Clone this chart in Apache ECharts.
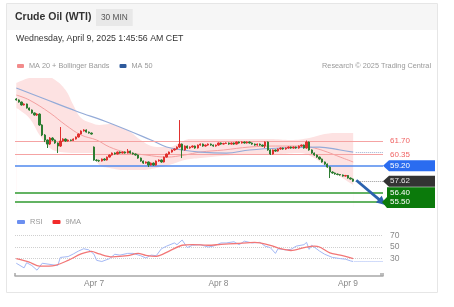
<!DOCTYPE html>
<html><head><meta charset="utf-8">
<script src="https://cdn.jsdelivr.net/npm/echarts/dist/echarts.min.js"></script>
<style>html,body{margin:0;padding:0;background:#fff}#c{width:454px;height:307px}</style>
</head><body><div id="c"></div>
<script>
// ---- data ----
const slotCount = 142; // 131 half-hour candles + empty space on the right
const tickIdx = [30, 78, 128];
const tickText = ['Apr 7', 'Apr 8', 'Apr 9'];

// [open, close, low, high]
const ohlc = [
[65.97,65.87,65.80,66.05],[65.87,65.66,65.60,65.92],[65.66,65.36,65.30,65.70],[65.36,65.46,65.30,65.52],
[65.46,65.05,65.00,65.50],[65.05,64.85,64.78,65.10],[64.85,64.55,64.48,64.90],[64.55,64.34,64.28,64.60],
[64.34,64.44,64.25,64.52],[64.44,63.33,63.25,64.50],[63.33,62.31,62.20,63.40],[62.31,61.80,61.60,62.40],
[61.80,61.39,60.99,61.85],[61.39,62.00,61.30,62.10],[62.00,61.80,61.70,62.08],[61.80,61.50,61.42,61.86],
[61.50,61.19,60.48,61.55],[61.19,61.70,61.10,63.12],[61.70,61.90,61.62,61.98],[61.90,61.70,61.62,61.96],
[61.70,61.80,61.64,61.86],[61.80,61.75,61.68,61.85],[61.75,61.90,61.70,61.96],[61.90,62.11,61.85,62.16],
[62.11,62.41,62.05,62.46],[62.41,62.72,62.36,62.78],[62.72,62.82,62.66,62.90],[62.82,62.61,62.55,62.88],
[62.61,62.51,62.45,62.66],[62.51,62.41,62.35,62.56],
[61.09,59.77,59.70,61.15],[59.77,59.72,59.62,59.85],[59.72,59.67,59.58,59.80],[59.67,59.87,59.62,59.92],
[59.87,59.77,59.70,59.94],[59.77,60.07,59.72,60.12],[60.07,60.28,60.02,60.33],[60.28,60.48,60.22,60.53],
[60.48,60.38,60.32,60.54],[60.38,60.58,60.33,60.63],[60.58,60.48,60.42,60.64],[60.48,60.58,60.43,60.63],
[60.58,60.48,60.42,60.64],[60.48,60.68,60.43,60.89],[60.68,60.48,60.42,60.73],[60.48,60.38,60.32,60.54],
[60.38,60.28,60.22,60.43],[60.28,59.97,59.90,60.33],[59.97,59.67,59.60,60.02],[59.67,59.46,59.38,59.72],
[59.46,59.57,59.40,59.62],[59.57,59.26,59.06,59.62],[59.26,59.46,59.20,59.52],[59.46,59.26,59.18,59.52],
[59.26,59.67,59.20,59.72],[59.67,59.77,59.60,59.83],[59.77,59.57,59.50,59.82],[59.57,60.07,59.52,60.12],
[60.07,60.38,60.02,60.43],[60.38,60.58,60.33,60.63],[60.58,60.79,60.52,60.84],[60.79,60.89,60.72,60.95],
[60.89,61.09,60.84,61.15],[61.09,61.39,61.00,63.83],[61.39,60.79,59.97,61.45],[60.79,61.19,60.72,61.25],
[61.19,60.99,60.92,61.24],[60.99,61.09,60.92,61.15],[61.09,61.19,61.02,61.25],[61.19,60.99,60.92,61.24],
[60.99,61.29,60.94,61.34],[61.29,61.39,61.22,61.45],[61.39,61.19,61.12,61.44],[61.19,61.29,61.12,61.34],
[61.29,61.39,61.22,61.45],[61.39,61.29,61.22,61.44],[61.29,61.19,61.12,61.34],[61.19,61.29,61.12,61.34],
[61.29,61.50,61.22,61.55],[61.50,61.39,61.32,61.55],[61.39,61.45,61.34,61.52],[61.45,61.50,61.40,61.56],
[61.50,61.39,61.32,61.55],[61.39,61.50,61.34,61.55],[61.50,61.39,61.32,61.55],[61.39,61.60,61.34,61.66],
[61.60,61.50,61.44,61.65],[61.50,61.60,61.44,61.66],[61.60,61.50,61.44,61.65],[61.50,61.60,61.44,61.66],
[61.60,61.50,61.44,61.65],[61.50,61.39,61.32,61.55],[61.39,61.29,61.22,61.44],[61.29,61.39,61.22,61.45],
[61.39,61.29,61.22,61.44],[61.29,61.19,61.12,61.34],[61.19,61.60,60.99,61.66],[61.60,60.79,60.72,61.65],
[60.79,60.38,60.28,60.85],[60.38,60.79,60.32,60.84],[60.79,60.68,60.60,60.84],[60.68,60.89,60.62,60.95],
[60.89,60.99,60.82,61.05],[60.99,60.89,60.82,61.04],[60.89,60.99,60.82,61.05],[60.99,61.09,60.92,61.15],
[61.09,60.99,60.92,61.14],[60.99,61.09,60.92,61.15],[61.09,60.99,60.92,61.14],[60.99,61.19,60.92,61.25],
[61.19,61.29,61.12,61.34],[61.29,60.99,60.92,61.34],[60.99,61.60,60.92,61.75],[61.60,60.79,60.72,61.65],
[60.79,60.48,60.40,60.85],[60.48,60.28,60.20,60.53],[60.28,60.07,60.00,60.33],[60.07,59.87,59.80,60.12],
[59.87,59.57,59.50,59.92],[59.57,59.36,59.28,59.62],[59.36,59.06,58.98,59.42],[59.06,58.55,57.94,59.12],
[58.55,58.45,58.38,58.62],[58.45,58.35,58.28,58.50],[58.35,58.30,58.22,58.40],[58.30,58.25,58.18,58.35],
[58.25,58.14,58.08,58.30],[58.14,58.20,58.08,58.26],[58.20,57.94,57.88,58.25],[57.94,57.84,57.78,58.00],
[57.84,57.62,57.55,57.90]
];

// indicator readings: [candle index, value]
const ma20 = [[0,66.37],[5,65.87],[13,64.55],[19,63.33],[25,62.31],[31,61.80],[36,61.09],[42,60.58],[50,60.28],[58,60.07],[65,60.28],[71,60.58],[80,60.79],[90,61.09],[100,61.19],[110,61.19],[115,60.99],[120,60.58],[125,60.07],[130,59.57]];
const ma50 = [[0,67.09],[10,66.07],[23,64.75],[36,63.53],[52,61.80],[58,61.09],[64,60.79],[71,60.58],[81,60.48],[90,60.79],[102,60.99],[117,61.09],[125,60.79],[130,60.58]];
const bbUpper = [[0,67.59],[5,68.10],[11,68.31],[15,67.90],[19,66.88],[22,65.36],[25,64.04],[29,63.53],[32,63.33],[36,63.43],[40,63.12],[44,62.61],[48,61.80],[52,61.19],[55,61.09],[59,61.09],[63,61.50],[67,61.90],[77,61.90],[90,61.90],[98,61.90],[106,61.80],[113,62.00],[119,62.41],[125,62.51],[130,62.51]];
const bbLower = [[0,65.05],[5,64.04],[9,62.31],[13,60.99],[17,60.58],[23,60.48],[29,60.48],[32,59.26],[36,58.96],[42,58.75],[48,58.75],[54,58.96],[59,59.26],[65,59.77],[71,59.97],[79,60.18],[86,60.28],[94,60.28],[102,60.38],[109,60.48],[115,59.97],[121,58.75],[127,57.74],[130,57.23]];
const rsi = [[0,22],[3,14],[4,23],[6,18],[8,10],[10,22],[13,20],[16,18],[17,32],[20,33.5],[22,38],[24,43],[26,47],[28,45],[30,37.5],[31,27],[33,25],[36,30],[38,37.5],[40,36],[43,39],[45,39],[48,35],[50,31],[52,36],[54,35],[56,47],[58,51.5],[61,57],[62,54],[64,62],[66,49],[68,53],[71,54],[74,50],[76,51.5],[79,57],[81,57],[84,59],[86,54],[88,60],[91,57],[94,58],[96,51.5],[98,49],[100,39],[101,47],[104,45],[106,46],[108,51.5],[111,54],[112,58],[113,46],[114,53],[117,43],[119,37.5],[122,32],[125,30],[127,29],[129,26],[130,25]];
const rsiMa = [[0,30],[5,24],[9,17],[15,18.5],[20,27],[25,38],[29,42.5],[32,38],[37,33],[43,35],[47,39],[50,35.5],[54,34],[59,43],[64,53],[68,54],[74,53],[79,54.5],[85,56],[92,58],[94,57],[98,53],[102,47],[106,44],[111,49],[115,51.5],[117,50],[121,40],[125,36],[130,30]];

const rsiLevels = [70, 50, 30];
const lvlR2 = 61.70, lvlR1 = 60.35, lvlPivot = 59.20, lvlLast = 57.62, lvlS1 = 56.40, lvlS2 = 55.50;
const ma50Last = 60.58, rsiLast = 25;

// ---- chart ----
const FF = '"Liberation Sans", Arial, sans-serif';
const cats = Array.from({length: slotCount}, (_, i) => { const k = tickIdx.indexOf(i); return k >= 0 ? tickText[k] : ''; });
const chart = echarts.init(document.getElementById('c'), null, {renderer: 'canvas', width: 454, height: 307});
const lastIdx = ohlc.length - 1;

const option = {
  animation: false,
  backgroundColor: '#ffffff',
  textStyle: {fontFamily: FF},
  title: [
    {text: 'Crude Oil (WTI)', left: 15, top: 10, padding: 0, textStyle: {fontSize: 10.5, fontWeight: 'bold', color: '#333', lineHeight: 14, fontFamily: FF}},
    {text: '30 MIN', left: 96, top: 9, padding: [4, 5], backgroundColor: '#e8e8e8', textStyle: {fontSize: 8.3, fontWeight: 'normal', color: '#555', lineHeight: 9, fontFamily: FF}},
    {text: 'Wednesday, April 9, 2025 1:45:56 AM CET', left: 16, top: 33, padding: 0, textStyle: {fontSize: 8.8, fontWeight: 'normal', color: '#333', lineHeight: 12, fontFamily: FF}},
    {text: 'Research © 2025 Trading Central', right: 23, top: 61, padding: 0, textStyle: {fontSize: 7.3, fontWeight: 'normal', color: '#999', lineHeight: 10, fontFamily: FF}}
  ],
  legend: [
    {left: 17, top: 61, padding: 0, icon: 'roundRect', itemWidth: 7, itemHeight: 4, itemGap: 10, selectedMode: false,
     textStyle: {fontSize: 7.3, color: '#999', lineHeight: 10, fontFamily: FF},
     data: [{name: 'MA 20 + Bollinger Bands', itemStyle: {color: '#f28b8b'}}, {name: 'MA 50', itemStyle: {color: '#2e5a9c'}}]},
    {left: 17, top: 217, padding: 0, icon: 'roundRect', itemWidth: 8, itemHeight: 4, itemGap: 10, selectedMode: false,
     textStyle: {fontSize: 7.5, color: '#999', lineHeight: 10, fontFamily: FF},
     data: [{name: 'RSI', itemStyle: {color: '#6b8ff0'}}, {name: '9MA', itemStyle: {color: '#f22b2b'}}]}
  ],
  grid: [
    {left: 15, top: 78, width: 368, height: 129, outerBoundsMode: 'none', containLabel: false},
    {left: 15, top: 218, width: 368, height: 58, outerBoundsMode: 'none', containLabel: false}
  ],
  xAxis: [
    {type: 'category', gridIndex: 0, data: cats, show: false},
    {type: 'value', gridIndex: 0, min: -0.5, max: slotCount - 0.5, show: false},
    {type: 'category', gridIndex: 1, data: cats,
     axisLine: {show: true, lineStyle: {color: '#a8a8a8', width: 1.5}},
     axisTick: {show: true, inside: true, length: 3, lineStyle: {color: '#a8a8a8', width: 1.5}, interval: (i) => i === 0 || i === slotCount - 1},
     axisLabel: {interval: 0, color: '#888', fontSize: 8.4, margin: 4, fontFamily: FF},
     splitLine: {show: false}},
    {type: 'value', gridIndex: 1, min: -0.5, max: slotCount - 0.5, show: false}
  ],
  yAxis: [
    {type: 'value', gridIndex: 0, min: 55, max: 68.1, show: false},
    {type: 'value', gridIndex: 1, min: 0, max: 100, interval: 10, position: 'right',
     axisLine: {show: false}, axisTick: {show: false}, splitLine: {show: false},
     axisLabel: {color: '#888', fontSize: 8.5, margin: 7, fontFamily: FF, formatter: v => rsiLevels.includes(v) ? String(v) : ''}}
  ],
  series: [
    {type: 'line', name: 'bbU', xAxisIndex: 1, yAxisIndex: 0, data: bbUpper, smooth: 0.4, symbol: 'none', silent: true,
     lineStyle: {width: 0, opacity: 0}, areaStyle: {color: '#fde2e2', opacity: 1, origin: 'start'}, z: 1},
    {type: 'line', name: 'bbL', xAxisIndex: 1, yAxisIndex: 0, data: bbLower, smooth: 0.4, symbol: 'none', silent: true,
     lineStyle: {width: 0, opacity: 0}, areaStyle: {color: '#ffffff', opacity: 1, origin: 'start'}, z: 2},
    {type: 'line', name: 'MA 20 + Bollinger Bands', xAxisIndex: 1, yAxisIndex: 0, data: ma20, smooth: 0.4, symbol: 'none',
     color: '#f4a0a0', lineStyle: {color: '#f4a0a0', width: 1}, z: 3},
    {type: 'line', name: 'MA 50', xAxisIndex: 1, yAxisIndex: 0, data: ma50, smooth: 0.4, symbol: 'none',
     color: '#94abd8', lineStyle: {color: '#94abd8', width: 1.2}, z: 3},
    {type: 'candlestick', name: 'price', xAxisIndex: 0, yAxisIndex: 0, data: ohlc, barWidth: '70%', z: 6,
     itemStyle: {color: '#e0312f', color0: '#2d7d32', borderColor: '#e0312f', borderColor0: '#2d7d32', borderWidth: 1},
     markLine: {silent: true, symbol: ['none', 'none'], label: {show: false}, z: 4,
       data: [
         {yAxis: lvlR2, lineStyle: {color: '#f5a3a3', width: 1, type: 'solid'}},
         {yAxis: lvlR1, lineStyle: {color: '#f5a3a3', width: 1, type: 'solid'}},
         {yAxis: lvlPivot, lineStyle: {color: '#4f88ee', width: 1.5, type: 'solid'}},
         {yAxis: lvlS1, lineStyle: {color: '#2f9a2f', width: 1.5, type: 'solid'}},
         {yAxis: lvlS2, lineStyle: {color: '#2f9a2f', width: 1.5, type: 'solid'}}
       ]}},
    {type: 'line', name: 'helper', xAxisIndex: 1, yAxisIndex: 0, data: [[lastIdx, lvlLast]], symbol: 'none', lineStyle: {opacity: 0}, z: 7,
     markLine: {silent: true, symbol: ['none', 'none'], label: {show: false}, z: 7,
       data: [
         [{coord: [lastIdx + 1, lvlLast], lineStyle: {color: '#999', width: 1, type: 'dotted'}}, {coord: [slotCount - 0.5, lvlLast]}],
         [{coord: [lastIdx + 1, ma50Last], lineStyle: {color: '#9fb0d0', width: 1, type: 'dotted'}}, {coord: [slotCount - 0.5, ma50Last]}],
         [{coord: [lastIdx + 1.2, 57.72], symbol: 'none', lineStyle: {color: '#2b62ae', width: 2.8, type: 'solid'}},
          {coord: [slotCount - 0.8, lvlS2], symbol: 'triangle', symbolSize: [9, 9]}]
       ]}},
    {type: 'line', name: 'RSI', xAxisIndex: 3, yAxisIndex: 1, data: rsi, symbol: 'none',
     color: '#a3b8f5', lineStyle: {color: '#a3b8f5', width: 1}, z: 3,
     markLine: {silent: true, symbol: ['none', 'none'], label: {show: false}, z: 2,
       data: [
         {yAxis: 70, lineStyle: {color: '#cfcfcf', width: 1, type: 'dotted'}},
         {yAxis: 50, lineStyle: {color: '#cfcfcf', width: 1, type: 'dotted'}},
         {yAxis: 30, lineStyle: {color: '#cfcfcf', width: 1, type: 'dotted'}},
         [{coord: [lastIdx + 0.5, rsiLast], lineStyle: {color: '#a3b8f5', width: 1, type: 'dotted'}}, {coord: [slotCount - 0.5, rsiLast]}]
       ]}},
    {type: 'line', name: '9MA', xAxisIndex: 3, yAxisIndex: 1, data: rsiMa, smooth: 0.3, symbol: 'none',
     color: '#f27676', lineStyle: {color: '#f27676', width: 1.3}, z: 4}
  ]
};
chart.setOption(option);

// ---- annotation tags positioned through the chart's own scales ----
const gx = v => chart.convertToPixel({xAxisIndex: 1}, v);
const gy = v => chart.convertToPixel({yAxisIndex: 0}, v);
const edge = gx(slotCount - 0.5);
const tagRight = 435, bodyX = edge + 6, txtX = edge + 7;
const font = '8px ' + FF;
function txt(s, y, color) {
  return {type: 'text', z: 101, style: {text: s, x: txtX, y: y, fill: color, font: font, verticalAlign: 'middle', textVerticalAlign: 'middle'}};
}
function tag(v, fill, s, color) {
  const y = gy(v);
  return [
    {type: 'polygon', z: 100, shape: {points: [[edge, y], [bodyX, y - 5.5], [tagRight, y - 5.5], [tagRight, y + 5.5], [bodyX, y + 5.5]]}, style: {fill: fill}},
    txt(s, y, color)
  ];
}
const yS1 = gy(lvlS1), yS2 = gy(lvlS2);
const elements = [
  {type: 'rect', z: -10, shape: {x: 6.5, y: 3.5, width: 431, height: 289}, style: {fill: '#fff', stroke: '#e6e6e6', lineWidth: 1}},
  {type: 'rect', z: -9, shape: {x: 7, y: 4, width: 430, height: 26}, style: {fill: '#f6f6f6'}},
  txt(lvlR2.toFixed(2), gy(lvlR2), '#f06464'),
  txt(lvlR1.toFixed(2), gy(lvlR1), '#f06464'),
  ...tag(lvlPivot, '#2a6cf0', lvlPivot.toFixed(2), '#ffffff'),
  ...tag(lvlLast, '#333333', lvlLast.toFixed(2), '#e6e6e6'),
  {type: 'polygon', z: 100, shape: {points: [[edge - 1, yS2], [bodyX - 2, yS2 - 5], [bodyX - 2, yS1 - 6], [tagRight, yS1 - 6], [tagRight, yS2 + 6], [bodyX - 2, yS2 + 6]]}, style: {fill: '#0b7a0b'}},
  txt(lvlS1.toFixed(2), yS1, '#ffffff'),
  txt(lvlS2.toFixed(2), yS2, '#ffffff')
];
chart.setOption({graphic: {elements: elements}});
</script>
</body></html>
